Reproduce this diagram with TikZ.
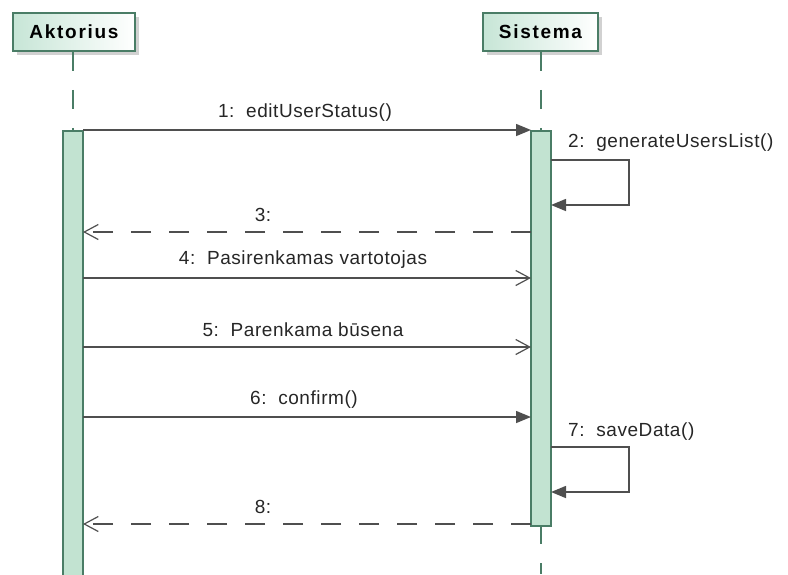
\documentclass[tikz,border=0pt]{standalone}
\usepackage{fontspec}
\setmainfont{Liberation Sans}
\newfontfamily\msgfont[LetterSpace=3]{Liberation Sans}
\newfontfamily\headfont[LetterSpace=9]{Liberation Sans}
\usetikzlibrary{arrows.meta,shadows}

\newlength{\du}
\setlength{\du}{1pt}

\definecolor{boxline}{rgb}{0.290000, 0.490000, 0.400000}
\definecolor{boxfill}{rgb}{0.780000, 0.900000, 0.840000}
\definecolor{actfill}{rgb}{0.760000, 0.890000, 0.820000}
\definecolor{msgline}{rgb}{0.310000, 0.310000, 0.310000}

\tikzset{
  objbox/.style={draw=boxline, line width=1.5\du, left color=boxfill, right color=white,
    minimum height=38\du, inner sep=0pt, font=\headfont\bfseries\fontsize{19}{21}\selectfont,
    drop shadow={shadow xshift=4\du, shadow yshift=-4\du, fill=black!18, opacity=1}},
  actbox/.style={draw=boxline, line width=1.5\du, fill=actfill, minimum width=20\du, inner sep=0pt},
  lifeline/.style={draw=boxline, line width=1.5\du, dash pattern=on 19\du off 19\du},
  callmsg/.style={draw=msgline, line width=1.5\du, -{Triangle[length=15pt,width=12pt]}},
  asyncmsg/.style={draw=msgline, line width=1.2\du, -{Straight Barb[length=14pt,width=15pt]}},
  replymsg/.style={draw=msgline, line width=1.5\du, dash pattern=on 20\du off 18\du,
    -{Straight Barb[length=14pt,width=15pt,line width=1.2pt]}},
  msglabel/.style={inner sep=0pt, font=\msgfont\fontsize{19}{21}\selectfont, text=black!85},
}

\begin{document}
\begin{tikzpicture}[x=1\du, y=-1\du]
\useasboundingbox (0,0) rectangle (788,574);

% objects
\node[objbox, minimum width=122\du] (aktorius) at (74,32) {Aktorius};
\node[objbox, minimum width=115\du] (sistema) at (540.5,32) {Sistema};

% lifelines
\coordinate (aktTop) at (73,130);
\coordinate (sisTop) at (541,130);
\coordinate (sisLow) at (541,525);
\coordinate (sisEnd) at (541,574);
\draw[lifeline] (aktorius.south -| aktTop) -- (aktTop);
\draw[lifeline] (sistema.south -| sisTop) -- (sisTop);
\draw[lifeline] (sisLow) -- (sisEnd);

% activations
\node[actbox, minimum height=460\du, anchor=north] (aktAct) at (73,130) {};
\node[actbox, minimum height=395\du, anchor=north] (sisAct) at (541,130) {};

% message end points
\coordinate (m1a) at (83,130);   \coordinate (m1b) at (531,130);
\coordinate (m2a) at (551,160);  \coordinate (m2b) at (551,205);
\coordinate (m3a) at (531,232);  \coordinate (m3b) at (83,232);
\coordinate (m4a) at (83,278);   \coordinate (m4b) at (531,278);
\coordinate (m5a) at (83,347);   \coordinate (m5b) at (531,347);
\coordinate (m6a) at (83,417);   \coordinate (m6b) at (531,417);
\coordinate (m7a) at (551,447);  \coordinate (m7b) at (551,492);
\coordinate (m8a) at (531,524);  \coordinate (m8b) at (83,524);

% messages
\draw[callmsg] (m1a) -- (m1b);
\draw[callmsg] (m2a) -- ++(78,0) |- (m2b);
\draw[replymsg] (m3a) -- (m3b);
\draw[asyncmsg] (m4a) -- (m4b);
\draw[asyncmsg] (m5a) -- (m5b);
\draw[callmsg] (m6a) -- (m6b);
\draw[callmsg] (m7a) -- ++(78,0) |- (m7b);
\draw[replymsg] (m8a) -- (m8b);

% labels
\node[msglabel] (l1) at (305,113) {1:\ \ editUserStatus()};
\node[msglabel, anchor=west] (l2) at (568,143) {2:\ \ generateUsersList()};
\node[msglabel] (l3) at (263,215) {3:};
\node[msglabel] (l4) at (303,260) {4:\ \ Pasirenkamas vartotojas};
\node[msglabel] (l5) at (303,330) {5:\ \ Parenkama būsena};
\node[msglabel] (l6) at (304,400) {6:\ \ confirm()};
\node[msglabel, anchor=west] (l7) at (568,432) {7:\ \ saveData()};
\node[msglabel] (l8) at (263,507) {8:};
\end{tikzpicture}
\end{document}
